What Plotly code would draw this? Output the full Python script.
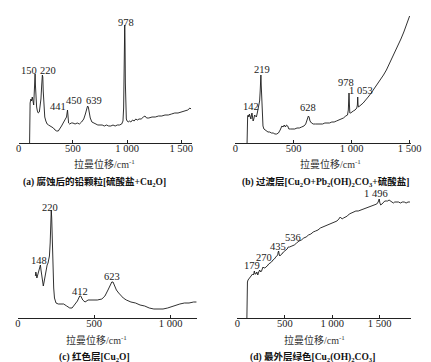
import plotly.graph_objects as go

# ---------------- data ----------------
# (a) corroded lead particles
a_wn = [100, 101, 105, 112, 118, 125, 132, 138, 143, 148, 151, 154, 158, 165, 172, 180, 190, 198, 205, 212, 218, 222,
        226, 232, 240, 250, 262, 275, 290, 305, 320, 335, 350, 365, 380, 395, 410, 425, 435, 441, 446, 450, 454, 460,
        470, 485, 500, 520, 540, 560, 580, 600, 615, 625, 635, 642, 650, 660, 675, 690, 710, 730, 750, 770, 790, 810,
        830, 850, 870, 890, 910, 930, 950, 962, 968, 972, 976, 978, 981, 984, 988, 993, 1000, 1010, 1020, 1035, 1050,
        1065, 1080, 1095, 1110, 1130, 1150, 1165, 1180, 1200, 1230, 1260, 1290, 1320, 1350, 1380, 1410, 1440, 1470,
        1500, 1530, 1560, 1580, 1590]
a_int = [0, 38, 40, 44, 42, 46, 40, 38, 50, 66, 69, 58, 42, 36, 32, 30, 31, 36, 44, 58, 68, 66,
         52, 36, 26, 22, 19, 18, 17, 16, 15, 13, 12, 12, 14, 17, 20, 23, 25, 26, 30, 33, 28, 20,
         19, 20, 20, 19, 20, 19, 21, 24, 29, 34, 37, 36, 31, 25, 21, 20, 19, 18, 18, 18, 17, 18,
         17, 17, 18, 17, 18, 18, 19, 22, 35, 70, 110, 118, 100, 60, 30, 24, 22, 21, 22, 21, 23,
         22, 24, 23, 24, 24, 26, 27, 25, 25, 26, 26, 27, 27, 28, 28, 29, 30, 30,
         31, 32, 33, 35, 34]

# (b) transition layer
b_wn = [100, 101, 105, 110, 115, 120, 127, 133, 138, 142, 146, 152, 158, 165, 172, 180, 188, 195, 202, 208, 213, 217,
        219, 222, 226, 231, 237, 245, 255, 265, 280, 295, 310, 325, 340, 355, 370, 385, 400, 410, 420, 430, 440, 450,
        460, 475, 490, 510, 530, 550, 570, 590, 605, 615, 622, 628, 634, 642, 655, 670, 690, 710, 730, 750, 770, 790,
        810, 830, 850, 870, 890, 910, 930, 950, 965, 972, 976, 978, 981, 985, 992, 1000, 1015, 1030, 1045, 1050, 1053,
        1056, 1060, 1075, 1090, 1100, 1125, 1150, 1175, 1200, 1225, 1250, 1275, 1300, 1325, 1350, 1375, 1400, 1425,
        1450, 1475, 1500]
b_int = [0, 24, 27, 28, 26, 29, 27, 24, 28, 30, 27, 22, 24, 28, 27, 26, 30, 35, 38, 42, 52, 64,
         68, 58, 40, 25, 17, 14, 13, 12, 11, 11, 10, 10, 9, 9, 10, 13, 17, 16, 18, 16, 18, 17,
         14, 14, 14, 14, 15, 15, 16, 17, 19, 22, 26, 27, 26, 22, 20, 19, 19, 19, 19, 19, 20, 20,
         20, 21, 21, 22, 23, 24, 25, 27, 28, 33, 45, 50, 40, 30, 30, 31, 32, 33, 35, 38, 46,
         38, 36, 38, 39, 40, 43, 47, 51, 55, 59, 63, 68, 73, 79, 85, 91, 97, 104,
         111, 119, 127]

# (c) red layer
c_wn = [115, 118, 121, 125, 130, 136, 141, 145, 148, 152, 158, 163, 167, 172, 178, 185, 192, 198, 203, 207, 212, 216,
        219, 222, 226, 230, 235, 240, 250, 265, 285, 300, 320, 340, 355, 370, 390, 405, 412, 425, 440, 460, 490, 520,
        550, 570, 590, 605, 615, 623, 632, 645, 660, 675, 690, 710, 740, 770, 800, 830, 860, 890, 920, 950, 980, 1000,
        1030, 1060, 1090, 1120, 1150, 1170]
c_int = [42, 46, 44, 40, 43, 46, 48, 52, 53, 48, 42, 36, 32, 36, 42, 47, 53, 55, 58, 62, 75, 95,
         108, 100, 70, 45, 30, 20, 15, 14, 14, 14, 12, 10, 10, 13, 17, 22, 22, 18, 16, 18, 18, 18,
         19, 22, 28, 33, 36, 36, 33, 28, 25, 22, 20, 18, 16, 15, 13, 12, 10, 9, 9, 9, 10, 11,
         13, 14, 15, 15, 16, 16]

# (d) outermost green layer
d_wn = [100, 101, 103, 106, 112, 120, 130, 140, 150, 160, 170, 179, 186, 195, 205, 215, 225, 235, 245, 255, 262, 270,
        280, 290, 300, 315, 330, 345, 360, 375, 390, 405, 415, 425, 430, 435, 440, 447, 455, 470, 485, 500, 515, 525,
        536, 550, 575, 600, 625, 650, 675, 700, 725, 750, 775, 800, 825, 850, 875, 900, 925, 950, 975, 1000, 1025,
        1050, 1070, 1085, 1095, 1105, 1120, 1140, 1160, 1180, 1200, 1225, 1250, 1275, 1300, 1325, 1350, 1375, 1400,
        1425, 1450, 1470, 1485, 1496, 1503, 1512, 1525, 1540, 1555, 1570, 1585, 1600, 1615, 1630, 1645, 1660, 1680,
        1700, 1720, 1740, 1760, 1780, 1800, 1820]
d_int = [0, 20, 30, 36, 38, 39, 40, 41, 42, 44, 43, 47, 44, 44, 46, 43, 46, 48, 46, 47, 49, 51,
         50, 50, 51, 52, 54, 55, 56, 58, 59, 61, 62, 63, 66, 67, 64, 62, 63, 64, 66, 67, 68, 69,
         71, 71, 72, 73, 75, 77, 78, 80, 81, 83, 84, 86, 87, 88, 90, 91, 92, 93, 94, 95, 96,
         97, 99, 101, 100, 99, 100, 101, 102, 104, 105, 106, 107, 107, 108, 109, 110, 111, 112,
         113, 114, 114, 116, 119, 115, 113, 114, 116, 117, 117, 117, 118, 117, 116, 115, 116, 116,
         116, 115, 116, 116, 115, 116, 116]

# peak labels: (text, wavenumber position, intensity position)
a_labels = [("150", 95, 73), ("220", 270, 73), ("441", 363, 37), ("450", 506, 43), ("639", 696, 43), ("978", 991, 121)]
b_labels = [("142", 133, 37), ("219", 227, 74), ("628", 629, 36), ("978", 950, 61), ("1 053", 1081, 53)]
c_labels = [("148", 139, 58), ("220", 214, 111), ("412", 404, 27), ("623", 614, 42)]
d_labels = [("179", 155, 53), ("270", 279, 61), ("435", 432, 72), ("536", 587, 81), ("1 496", 1464, 125)]

tick_vals = [0, 500, 1000, 1500]
tick_text = ["0", "500", "1 000", "1 500"]
x_title = "拉曼位移/cm<sup>-1</sup>"
captions = [
    "(a) 腐蚀后的铅颗粒[硫酸盐+Cu<sub>2</sub>O]",
    "(b) 过渡层[Cu<sub>2</sub>O+Pb<sub>2</sub>(OH)<sub>2</sub>CO<sub>3</sub>+硫酸盐]",
    "(c) 红色层[Cu<sub>2</sub>O]",
    "(d) 最外层绿色[Cu<sub>2</sub>(OH)<sub>2</sub>CO<sub>3</sub>]",
]

# ---------------- layout ----------------
W, H = 431, 362
SERIF = "Liberation Serif, Noto Sans CJK SC, serif"


def px(x):
    return x / W


def py(y):
    return 1 - y / H


# panel geometry in pixels: x0, x1, ybottom, ytop, xmax, ymax, nticks
panels = [
    (8, 187.2, 135, 5, 1600, 130, 4),
    (232, 413.2, 135, 5, 1510, 130, 4),
    (7, 191.9, 310, 195, 1170, 115, 3),
    (234, 413.3, 310, 185, 1830, 125, 4),
]
series = [(a_wn, a_int), (b_wn, b_int), (c_wn, c_int), (d_wn, d_int)]
labels = [a_labels, b_labels, c_labels, d_labels]
title_pos = [(97, 156), (330, 156), (88, 332), (314, 332)]
caption_pos = [(86, 174), (325, 174), (86, 349), (312, 349)]

fig = go.Figure()
layout = dict(
    width=W, height=H, margin=dict(l=0, r=0, t=0, b=0),
    paper_bgcolor="white", plot_bgcolor="white", showlegend=False,
)
annotations = []
for i, ((x0, x1, yb, yt, xmax, ymax, nt), (wn, inten), labs) in enumerate(zip(panels, series, labels)):
    k = "" if i == 0 else str(i + 1)
    fig.add_trace(go.Scatter(x=wn, y=inten, mode="lines", xaxis="x" + k, yaxis="y" + k,
                             line=dict(color="#1a1a1a", width=0.9), hoverinfo="skip"))
    layout["xaxis" + k] = dict(
        domain=[px(x0), px(x1)], range=[0, xmax], anchor="y" + k,
        showline=True, linecolor="#222", linewidth=1, showgrid=False, zeroline=False,
        ticks="inside", ticklen=3, tickcolor="#222", tickwidth=1,
        tickvals=tick_vals[:nt], ticktext=tick_text[:nt], ticklabelstandoff=-5,
        tickfont=dict(family=SERIF, size=10.5, color="#222"),
    )
    layout["yaxis" + k] = dict(
        domain=[py(yb), py(yt)], range=[0, ymax], anchor="x" + k, visible=False,
    )
    for text, xv, yv in labs:
        annotations.append(dict(text=text, x=xv, y=yv, xref="x" + k, yref="y" + k, showarrow=False,
                                xanchor="center", yanchor="middle",
                                font=dict(family=SERIF, size=10.5, color="#222")))
    tx, ty = title_pos[i]
    annotations.append(dict(text=x_title, x=px(tx), y=py(ty), xref="paper", yref="paper", showarrow=False,
                            xanchor="center", yanchor="middle",
                            font=dict(family=SERIF, size=10, color="#333")))
    cx, cy = caption_pos[i]
    annotations.append(dict(text="<b>" + captions[i] + "</b>", x=px(cx), y=py(cy), xref="paper", yref="paper",
                            showarrow=False, xanchor="center", yanchor="middle",
                            font=dict(family=SERIF, size=9.5, color="#111")))

layout["annotations"] = annotations
fig.update_layout(**layout)
fig.write_html("out.html")
